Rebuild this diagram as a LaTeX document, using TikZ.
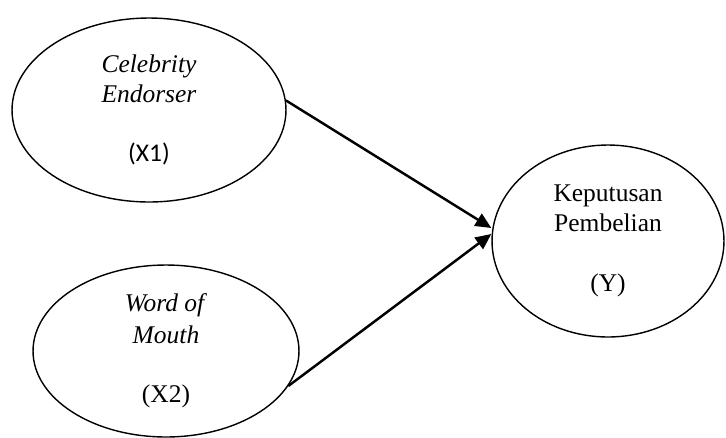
\documentclass[tikz,border=0pt]{standalone}
\usepackage{fontspec}
\setmainfont{Liberation Serif}
\newfontfamily\calibri{Carlito}
\usetikzlibrary{arrows.meta,shapes.geometric}

\begin{document}
\begin{tikzpicture}[x=0.02cm,y=-0.02cm,
    font=\fontsize{14.5}{17}\selectfont,
    latent/.style={draw,ellipse,line width=0.8pt,inner sep=0pt,align=center},
    link/.style={-{Triangle[length=9pt,width=8pt]},line width=1.4pt}]
  \useasboundingbox (0,0) rectangle (726,437);
  % three constructs, px coordinates of the 726x437 frame
  \node[latent,minimum width=5.48cm,minimum height=3.68cm] (x1) at (149,110)
    {\textit{Celebrity}\\\textit{Endorser}\\[17pt]{\calibri (X1)}};
  \node[latent,minimum width=5.32cm,minimum height=3.44cm] (x2) at (166,351)
    {\textit{Word of}\\[1pt]\textit{Mouth}\\[17pt](X2)};
  \node[latent,minimum width=4.64cm,minimum height=3.84cm] (y) at (608,241)
    {Keputusan\\Pembelian\\[17pt](Y)};
  % paths
  \draw[link] (x1.4) -- ([yshift=7.4pt]y.west);
  \draw[link] (x2.-16) -- ([yshift=4pt]y.west);
\end{tikzpicture}
\end{document}
